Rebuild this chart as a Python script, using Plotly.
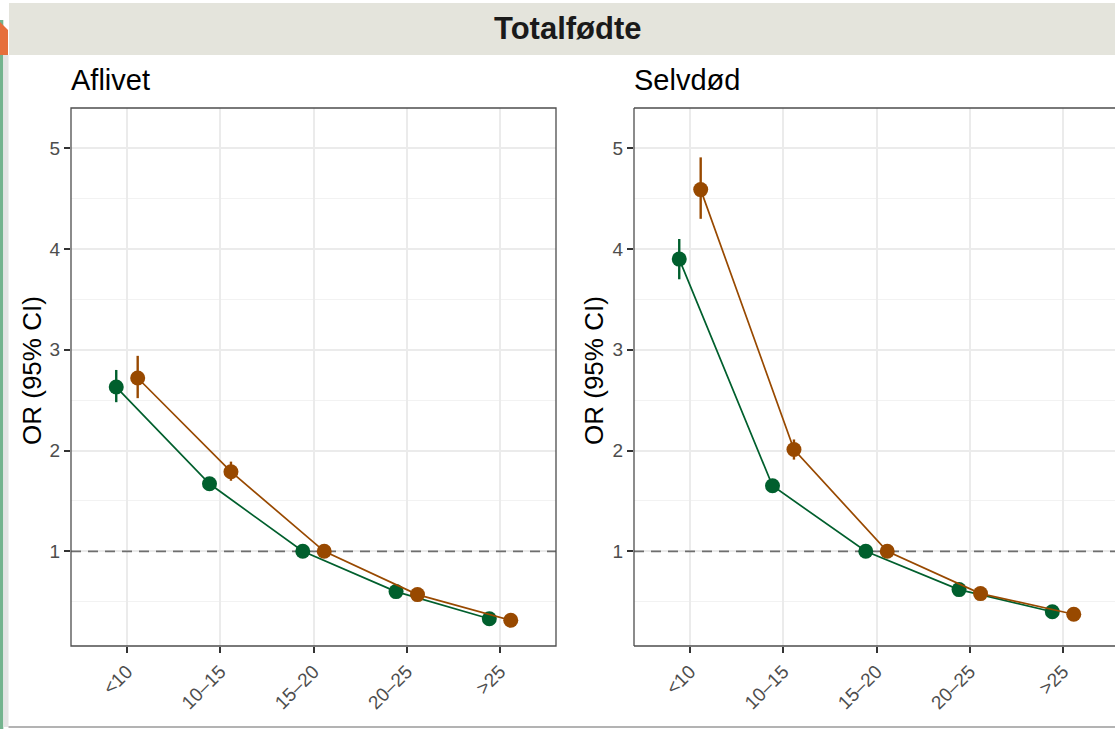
import plotly.graph_objects as go

# ---- data ----
categories = ["<10", "10–15", "15–20", "20–25", ">25"]
panels = ["Aflivet", "Selvdød"]

# Aflivet
afl_green = [2.63, 1.67, 1.00, 0.60, 0.33]
afl_green_lo = [2.48, 1.64, 1.00, 0.58, 0.31]
afl_green_hi = [2.80, 1.70, 1.00, 0.62, 0.35]
afl_orange = [2.72, 1.79, 1.00, 0.57, 0.315]
afl_orange_lo = [2.52, 1.70, 1.00, 0.55, 0.30]
afl_orange_hi = [2.94, 1.89, 1.00, 0.59, 0.33]

# Selvdød
sel_green = [3.90, 1.65, 1.00, 0.62, 0.40]
sel_green_lo = [3.70, 1.62, 1.00, 0.60, 0.38]
sel_green_hi = [4.10, 1.68, 1.00, 0.64, 0.42]
sel_orange = [4.59, 2.01, 1.00, 0.58, 0.375]
sel_orange_lo = [4.30, 1.91, 1.00, 0.56, 0.36]
sel_orange_hi = [4.91, 2.11, 1.00, 0.60, 0.39]

y_ticks = [1, 2, 3, 4, 5]
ref_value = 1.0

GREEN = "#005f2d"
ORANGE = "#984900"
DODGE = 0.115

W, H = 1115, 729
def px(x):
    return x / W
def py(y):
    return (H - y) / H

panel_top, panel_bot = 108, 646
left_x0, left_x1 = 71, 556
right_x0, right_x1 = 634, 1115
unit = (left_x1 - left_x0) / 5.2
xr_left = [0.4, 5.6]
xr_right = [0.4, 0.4 + (right_x1 - right_x0) / unit]
yrange = [0.06, 5.40]

fig = go.Figure()

# reference lines at OR = 1 (drawn first: above grid, below points)
for xa, ya, xr in (("x", "y", xr_left), ("x2", "y2", xr_right)):
    fig.add_trace(go.Scatter(x=xr, y=[ref_value, ref_value], mode="lines",
                             line=dict(color="#6e6e6e", width=1.7, dash="10px,7px"),
                             xaxis=xa, yaxis=ya, showlegend=False, hoverinfo="skip"))

series = [
    (afl_green, afl_green_lo, afl_green_hi, GREEN, -DODGE, "x", "y"),
    (afl_orange, afl_orange_lo, afl_orange_hi, ORANGE, DODGE, "x", "y"),
    (sel_green, sel_green_lo, sel_green_hi, GREEN, -DODGE, "x2", "y2"),
    (sel_orange, sel_orange_lo, sel_orange_hi, ORANGE, DODGE, "x2", "y2"),
]
for vals, lo, hi, col, off, xa, ya in series:
    xs = [i + 1 + off for i in range(len(categories))]
    fig.add_trace(go.Scatter(
        x=xs, y=vals, mode="lines+markers",
        line=dict(color=col, width=1.7),
        marker=dict(color=col, size=15),
        error_y=dict(type="data", symmetric=False,
                     array=[h - v for h, v in zip(hi, vals)],
                     arrayminus=[v - l for v, l in zip(vals, lo)],
                     color=col, thickness=2.4, width=0),
        xaxis=xa, yaxis=ya, showlegend=False, hoverinfo="skip",
    ))

font = "Liberation Sans, Arial"
tickfont = dict(family=font, size=19, color="#4d4d4d")
common_x = dict(tickmode="array", tickvals=[1, 2, 3, 4, 5], ticktext=categories,
                tickangle=-45, tickfont=tickfont, ticks="outside", ticklen=6,
                tickwidth=1.6, tickcolor="#333333", showgrid=True,
                gridcolor="#ebebeb", gridwidth=1.8, zeroline=False, showline=False)
common_y = dict(range=yrange, tickmode="array", tickvals=y_ticks, tickfont=tickfont,
                ticks="outside", ticklen=6, tickwidth=1.6, tickcolor="#333333",
                showgrid=True, gridcolor="#ebebeb", gridwidth=1.8, zeroline=False,
                showline=False,
                minor=dict(tickmode="array", tickvals=[0.5, 1.5, 2.5, 3.5, 4.5],
                           showgrid=True, gridcolor="#f2f2f2", gridwidth=1.0, ticks=""))

fig.update_layout(
    width=W, height=H,
    margin=dict(l=0, r=0, t=0, b=0),
    paper_bgcolor="white", plot_bgcolor="white",
    xaxis=dict(domain=[px(left_x0), px(left_x1)], range=xr_left, anchor="y", **common_x),
    yaxis=dict(domain=[py(panel_bot), py(panel_top)], anchor="x", **common_y),
    xaxis2=dict(domain=[px(right_x0), 1.0], range=xr_right, anchor="y2", **common_x),
    yaxis2=dict(domain=[py(panel_bot), py(panel_top)], anchor="x2", **common_y),
)

shapes = []
# screenshot edge decorations
shapes.append(dict(type="rect", xref="paper", yref="paper", x0=0, x1=px(3.3),
                   y0=0, y1=py(20), fillcolor="#74b38e", line=dict(width=0), layer="above"))
shapes.append(dict(type="path", xref="paper", yref="paper",
                   path=f"M 0,{py(22)} L {px(8)},{py(30)} L {px(8)},{py(55)} L 0,{py(55)} Z",
                   fillcolor="#e66f3c", line=dict(width=0), layer="above"))
shapes.append(dict(type="rect", xref="paper", yref="paper", x0=px(3.3), x1=px(8.5),
                   y0=py(727), y1=py(55), fillcolor="#e4e4e4", line=dict(width=0), layer="above"))
shapes.append(dict(type="line", xref="paper", yref="paper", x0=px(8.5), x1=1,
                   y0=py(727), y1=py(727), line=dict(color="#9a9a9a", width=1.5), layer="above"))
# strip
shapes.append(dict(type="rect", xref="paper", yref="paper", x0=px(9), x1=1,
                   y0=py(55), y1=py(3), fillcolor="#e4e4dc", line=dict(width=0), layer="above"))
# panel borders
bcol = dict(color="#4d4d4d", width=1.3)
shapes.append(dict(type="rect", xref="paper", yref="paper", x0=px(left_x0), x1=px(left_x1),
                   y0=py(panel_bot), y1=py(panel_top), line=bcol, layer="above"))
for (a, b, c, d) in [(right_x0, panel_top, right_x0, panel_bot),
                     (right_x0, panel_top, right_x1 + 2, panel_top),
                     (right_x0, panel_bot, right_x1 + 2, panel_bot)]:
    shapes.append(dict(type="line", xref="paper", yref="paper", x0=px(a), y0=py(b),
                       x1=px(c), y1=py(d), line=bcol, layer="above"))
fig.update_layout(shapes=shapes)

annotations = [
    dict(text="<b>Totalfødte</b>", x=px(568), y=py(29), xref="paper", yref="paper",
         showarrow=False, xanchor="center", yanchor="middle",
         font=dict(family=font, size=31, color="#1a1a1a")),
    dict(text=panels[0], x=px(69), y=py(80), xref="paper", yref="paper",
         showarrow=False, xanchor="left", yanchor="middle",
         font=dict(family=font, size=29, color="black")),
    dict(text=panels[1], x=px(632), y=py(80), xref="paper", yref="paper",
         showarrow=False, xanchor="left", yanchor="middle",
         font=dict(family=font, size=29, color="black")),
    dict(text="OR (95% CI)", x=px(32), y=py(371), xref="paper", yref="paper",
         showarrow=False, xanchor="center", yanchor="middle", textangle=-90,
         font=dict(family=font, size=26, color="black")),
    dict(text="OR (95% CI)", x=px(594), y=py(371), xref="paper", yref="paper",
         showarrow=False, xanchor="center", yanchor="middle", textangle=-90,
         font=dict(family=font, size=26, color="black")),
]
fig.update_layout(annotations=annotations)

fig.write_html("out.html", config={"displayModeBar": False},
               post_script="document.body.style.margin='0';document.body.style.overflow='hidden';")
